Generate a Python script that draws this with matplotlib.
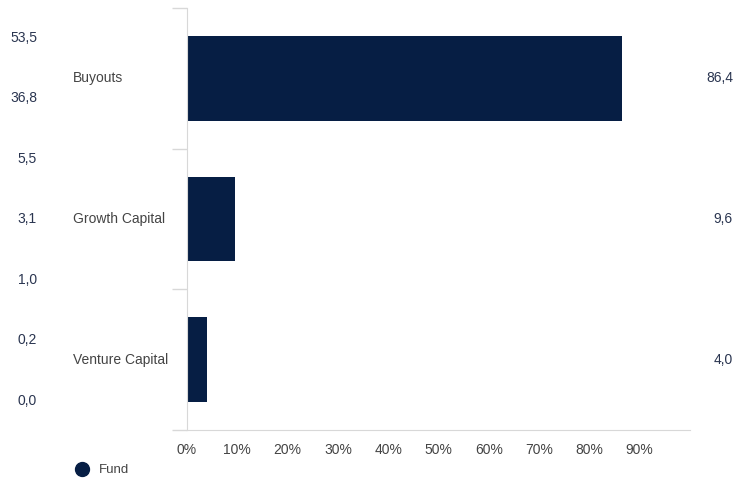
import matplotlib
matplotlib.use("Agg")
import matplotlib.pyplot as plt
from matplotlib.lines import Line2D
import matplotlib.transforms as mtransforms

plt.rcParams["font.family"] = ["Liberation Sans", "DejaVu Sans"]

# data
categories = ["Buyouts", "Growth Capital", "Venture Capital"]
fund_values = [86.4, 9.6, 4.0]
fund_labels = ["86,4", "9,6", "4,0"]
left_labels = ["53,5", "36,8", "5,5", "3,1", "1,0", "0,2", "0,0"]
x_ticks = [0, 10, 20, 30, 40, 50, 60, 70, 80, 90]
x_tick_labels = [f"{t}%" for t in x_ticks]

navy = "#061e44"
grid_gray = "#d8d8d8"
text_gray = "#444444"
num_color = "#2a3550"

fig = plt.figure(figsize=(7.49, 4.84), dpi=100)
ax = fig.add_axes([187 / 749, 1 - 430 / 484, 503 / 749, 422 / 484])

y_pos = list(range(len(categories)))
ax.barh(y_pos, fund_values, height=0.6, color=navy)

ax.set_xlim(0, 100)
ax.set_ylim(len(categories) - 0.5, -0.5)

# spines
for side in ["top", "right"]:
    ax.spines[side].set_visible(False)
ax.spines["left"].set_color(grid_gray)
ax.spines["bottom"].set_color(grid_gray)

# x ticks
ax.set_xticks(x_ticks)
ax.set_xticklabels(x_tick_labels, fontsize=10, color=text_gray)
ax.tick_params(axis="x", length=0, pad=9)

# y: category separators as minor ticks, no major labels
ax.set_yticks(y_pos)
ax.set_yticklabels([])
ax.tick_params(axis="y", which="major", length=0)
ax.set_yticks([i - 0.5 for i in range(len(categories) + 1)], minor=True)
ax.tick_params(axis="y", which="minor", length=11, color=grid_gray, width=1)

# category labels (figure x, data y)
trans_cat = mtransforms.blended_transform_factory(fig.transFigure, ax.transData)
for i, cat in enumerate(categories):
    ax.text(73 / 749, i, cat, transform=trans_cat, ha="left", va="center",
            fontsize=10, color=text_gray)

# value labels on the right
for i, lab in enumerate(fund_labels):
    ax.text(733 / 749, i, lab, transform=trans_cat, ha="right", va="center",
            fontsize=10, color=num_color)

# column of numbers on the far left
trans_left = mtransforms.blended_transform_factory(fig.transFigure, ax.transAxes)
n = len(left_labels)
top_f, bot_f = 0.929, 0.069
for k, lab in enumerate(left_labels):
    yf = top_f - k * (top_f - bot_f) / (n - 1)
    ax.text(37 / 749, yf, lab, transform=trans_left, ha="right", va="center",
            fontsize=10, color=num_color)

# legend
handle = Line2D([], [], marker="o", linestyle="", color=navy, markersize=10)
leg = fig.legend(handles=[handle], labels=["Fund"], loc="center left",
                 bbox_to_anchor=(57 / 749, 1 - 470 / 484), frameon=False,
                 handletextpad=0.3, fontsize=9.5)
for t in leg.get_texts():
    t.set_color(text_gray)

fig.savefig("out.png", dpi=100)
